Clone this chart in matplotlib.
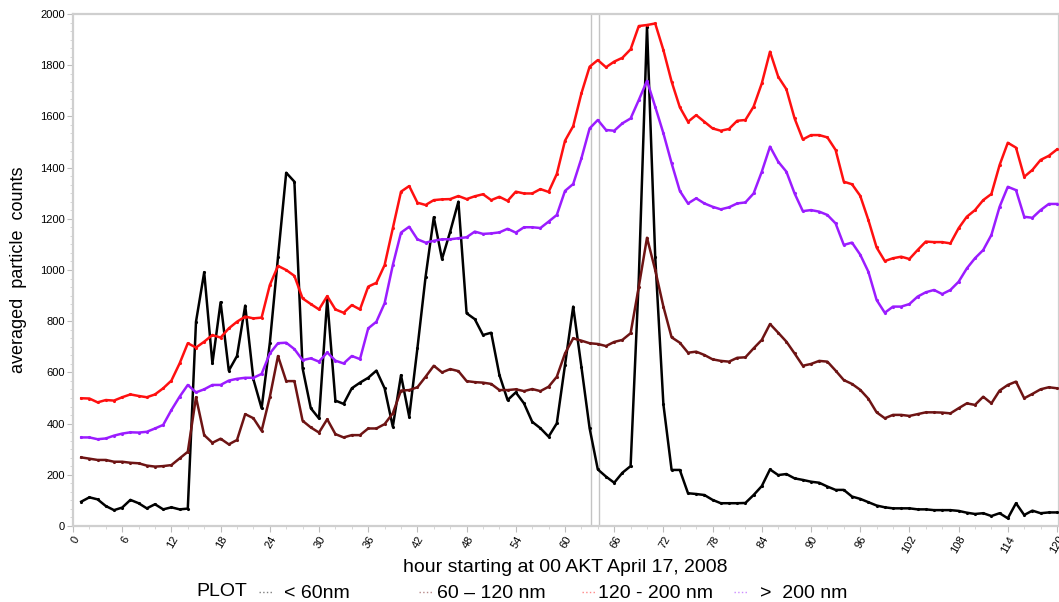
import matplotlib
matplotlib.use("Agg")
import matplotlib.pyplot as plt
from matplotlib.lines import Line2D
from matplotlib.ticker import MultipleLocator

plt.rcParams['font.family'] = ['Liberation Sans', 'DejaVu Sans']

# hourly averaged particle counts, hour 1..120
hours = list(range(1, 121))

lt60 = [95, 112, 104, 78, 62, 72, 102, 89, 69, 85, 65, 73, 65, 68, 798, 991, 635, 874, 607, 664,
        861, 573, 460, 714, 1050, 1380, 1345, 616, 460, 420, 885, 490, 477, 538, 560, 579, 607, 538, 388, 589,
        427, 694, 974, 1206, 1043, 1150, 1267, 831, 808, 746, 755, 590, 492, 522, 479, 407, 382, 349, 401, 629,
        857, 622, 382, 221, 193, 169, 208, 234, 967, 1950, 1052, 475, 219, 219, 128, 125, 121, 102, 89, 89,
        89, 90, 121, 156, 221, 199, 203, 186, 180, 173, 169, 154, 141, 141, 115, 106, 93, 80, 73, 69,
        69, 69, 65, 65, 62, 62, 62, 59, 52, 47, 50, 39, 50, 30, 89, 43, 60, 50, 53, 53]

r60_120 = [268, 263, 258, 258, 251, 251, 247, 245, 236, 232, 234, 238, 264, 290, 503, 355, 325, 341, 319, 336,
           437, 421, 372, 503, 664, 566, 566, 411, 385, 365, 417, 359, 346, 355, 355, 381, 381, 398, 440, 529,
           531, 542, 583, 626, 600, 613, 605, 566, 562, 560, 555, 531, 531, 534, 527, 535, 527, 544, 583, 674,
           733, 724, 714, 711, 703, 719, 727, 753, 935, 1126, 1000, 857, 737, 716, 677, 681, 668, 651, 645, 642,
           657, 659, 694, 727, 789, 755, 720, 674, 626, 633, 645, 642, 607, 570, 555, 532, 497, 444, 421, 434,
           434, 430, 437, 444, 444, 443, 440, 460, 479, 473, 505, 479, 529, 551, 564, 499, 516, 534, 542, 538]

r120_200 = [499, 498, 483, 492, 490, 503, 514, 508, 503, 514, 538, 568, 635, 714, 697, 720, 746, 736, 772, 798,
            818, 811, 814, 941, 1016, 1000, 977, 889, 867, 846, 898, 846, 833, 863, 846, 935, 950, 1019, 1163, 1306,
            1328, 1263, 1254, 1273, 1276, 1277, 1289, 1277, 1288, 1296, 1273, 1286, 1270, 1306, 1299, 1299, 1316, 1305, 1375, 1505,
            1562, 1690, 1794, 1820, 1792, 1814, 1829, 1862, 1953, 1957, 1963, 1859, 1736, 1636, 1579, 1605, 1579, 1553, 1544, 1551,
            1583, 1586, 1638, 1729, 1853, 1755, 1706, 1592, 1510, 1527, 1527, 1518, 1469, 1345, 1335, 1290, 1195, 1088, 1035, 1046,
            1052, 1043, 1078, 1111, 1109, 1109, 1104, 1163, 1208, 1234, 1273, 1297, 1410, 1497, 1478, 1364, 1391, 1430, 1446, 1471]

gt200 = [346, 346, 339, 342, 353, 361, 366, 365, 368, 381, 395, 453, 505, 551, 522, 534, 551, 551, 568, 575,
         579, 579, 594, 674, 714, 716, 691, 648, 655, 642, 678, 646, 635, 664, 652, 772, 798, 870, 1019, 1146,
         1169, 1120, 1107, 1114, 1120, 1120, 1124, 1128, 1150, 1141, 1143, 1147, 1161, 1146, 1167, 1167, 1164, 1189, 1215, 1309,
         1336, 1436, 1553, 1586, 1547, 1544, 1573, 1592, 1664, 1739, 1638, 1534, 1417, 1309, 1260, 1280, 1260, 1247, 1237, 1245,
         1260, 1264, 1299, 1384, 1482, 1423, 1384, 1299, 1230, 1234, 1228, 1215, 1182, 1098, 1107, 1060, 993, 883, 833, 857,
         857, 867, 896, 913, 922, 906, 922, 954, 1006, 1046, 1078, 1137, 1247, 1325, 1312, 1208, 1204, 1234, 1258, 1258]

labels = ['< 60nm', '60 \u2013 120 nm', '120 - 200 nm', '>  200 nm']
colors = ['#000000', '#6e1414', '#ff1010', '#9b1cff']
series = [lt60, r60_120, r120_200, gt200]
marker_hours = [63.2, 64.1]
xticks = list(range(0, 121, 6))

fig = plt.figure(figsize=(10.59, 6.02), dpi=100)
ax = fig.add_axes([73 / 1059, 1 - 526 / 602, (1059 - 73) / 1059, (526 - 14) / 602])

for xv in marker_hours:
    ax.axvline(xv, color='#c4c4c4', lw=1.0, zorder=1)

for vals, c in zip(series, colors):
    ax.plot(hours, vals, color=c, lw=1.8, marker='.', markersize=2.5, zorder=3)

ax.set_xlim(0, (1059 - 73) / 8.2)
ax.set_ylim(0, 2000)
ax.set_yticks(range(0, 2001, 200))
ax.yaxis.set_minor_locator(MultipleLocator(200 / 6))
ax.set_xticks(xticks)
ax.xaxis.set_minor_locator(MultipleLocator(2))
ax.set_xticklabels([str(t) for t in xticks], rotation=60, ha='right',
                   rotation_mode='anchor', fontsize=8)
for lab in ax.get_yticklabels():
    lab.set_fontsize(8)

for side in ['top', 'left', 'bottom', 'right']:
    ax.spines[side].set_color('#cfcfcf')
    ax.spines[side].set_linewidth(1.6)
ax.tick_params(which='major', length=4, color='#bdbdbd', pad=2)
ax.tick_params(which='minor', length=2, color='#d0d0d0')

ax.set_ylabel('averaged  particle  counts', fontsize=13, labelpad=9)
fig.text(565 / 1059, 1 - 567 / 602, 'hour starting at 00 AKT April 17, 2008',
         ha='center', va='center', fontsize=14)

# legend row along the bottom edge
fig.text(196 / 1059, 1 - 592 / 602, 'PLOT', ha='left', va='center', fontsize=14)
sample_x = [259, 419, 582, 734]
text_x = [284, 437, 598, 760]
for sx, tx, lab, c in zip(sample_x, text_x, labels, colors):
    fig.add_artist(Line2D([sx / 1059, (sx + 14) / 1059], [1 - 592 / 602] * 2,
                          color=c, lw=1.0, ls=':', alpha=0.5, transform=fig.transFigure))
    fig.text(tx / 1059, 1 - 593 / 602, lab, ha='left', va='center', fontsize=14)

fig.savefig('out.png', dpi=100)
